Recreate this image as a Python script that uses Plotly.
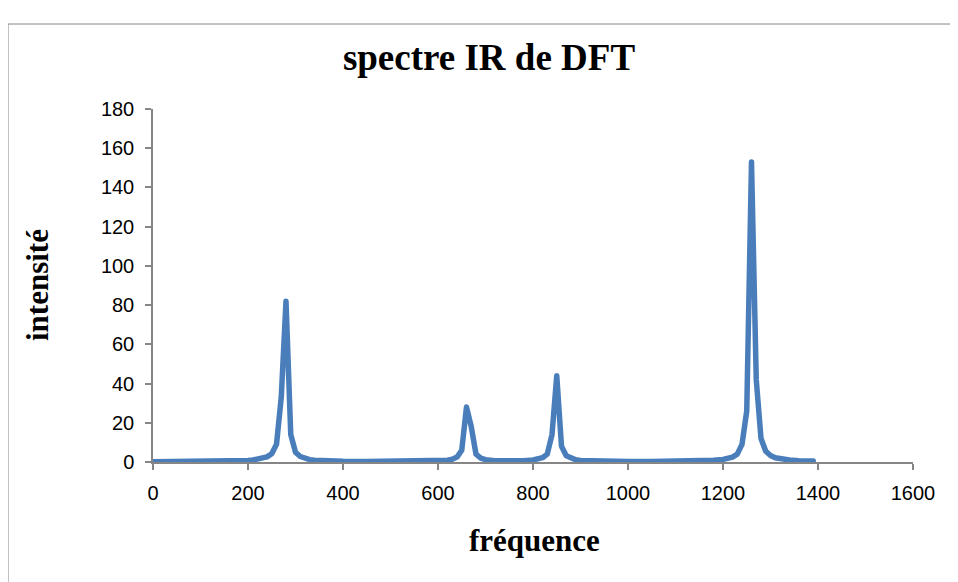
import plotly.graph_objects as go

freq = [0, 50, 100, 150, 180, 200, 210, 220, 230, 240, 250, 260, 270, 280, 290, 300,
        310, 320, 330, 340, 360, 400, 450, 500, 550, 600, 620, 630, 640, 650, 660, 670,
        680, 690, 700, 720, 750, 780, 800, 810, 820, 830, 840, 850, 860, 870, 880, 890,
        900, 950, 1000, 1050, 1100, 1150, 1180, 1200, 1210, 1220, 1230, 1240, 1250, 1260,
        1270, 1280, 1290, 1300, 1310, 1320, 1340, 1360, 1390]
intensite = [0.1, 0.15, 0.2, 0.35, 0.6, 0.8, 1.0, 1.3, 1.8, 2.6, 4.2, 9, 33, 82, 14, 5,
             2.8, 1.8, 1.2, 0.9, 0.6, 0.35, 0.25, 0.25, 0.35, 0.6, 0.9, 1.4, 2.5, 6, 28, 18,
             4, 2, 1.2, 0.7, 0.5, 0.7, 1.0, 1.4, 2.2, 4, 14, 44, 8, 3.2, 1.8, 1.1,
             0.8, 0.4, 0.3, 0.3, 0.4, 0.6, 0.9, 1.3, 1.7, 2.5, 4, 9, 26, 153,
             42, 12, 5.5, 3.3, 2.2, 1.6, 1.0, 0.7, 0.5]

x_ticks = [0, 200, 400, 600, 800, 1000, 1200, 1400, 1600]
y_ticks = [0, 20, 40, 60, 80, 100, 120, 140, 160, 180]

# page body has an 8px margin; work in screen pixels and offset
OFF = 8
W, H = 958 - OFF, 582 - OFF
L, R, T, B = 153 - OFF, 45, 109 - OFF, 120
pw, ph = W - L - R, H - T - B

def px_to_paper_x(px):
    return (px - OFF - L) / pw

def px_to_paper_y(py):
    return (H - B - (py - OFF)) / ph

serif = "Liberation Serif, Times New Roman, serif"

fig = go.Figure()
fig.add_trace(go.Scatter(x=freq, y=intensite, mode="lines",
                         line=dict(color="#4A7EBB", width=5.5),
                         showlegend=False, hoverinfo="x+y"))

tick_font = dict(family="Liberation Sans, Arial, sans-serif", size=20, color="#000000")
fig.update_layout(
    width=W, height=H,
    margin=dict(l=L, r=R, t=T, b=B, pad=0),
    paper_bgcolor="white", plot_bgcolor="white",
    title=dict(text="<b>spectre IR de DFT</b>", x=(489 - OFF) / W, y=1 - (57 - OFF) / H,
               xref="container", yref="container", xanchor="center", yanchor="middle",
               font=dict(family=serif, size=37, color="#000000")),
    xaxis=dict(range=[0, 1600], tickvals=x_ticks, ticks="outside", ticklen=6,
               tickcolor="#868686", tickwidth=1.5, showline=True, linecolor="#868686",
               linewidth=1.5, showgrid=False, zeroline=False, tickfont=tick_font,
               ticklabelstandoff=6),
    yaxis=dict(range=[0, 180], tickvals=y_ticks, ticks="outside", ticklen=6,
               tickcolor="#868686", tickwidth=1.5, showline=True, linecolor="#868686",
               linewidth=1.5, showgrid=False, zeroline=False, tickfont=tick_font,
               ticklabelstandoff=7),
    annotations=[
        dict(text="<b>fréquence</b>", xref="paper", yref="paper",
             x=px_to_paper_x(534), y=px_to_paper_y(540), xanchor="center", yanchor="middle",
             showarrow=False, font=dict(family=serif, size=31, color="#000000")),
        dict(text="<b>intensité</b>", xref="paper", yref="paper", textangle=-90,
             x=px_to_paper_x(37), y=px_to_paper_y(285), xanchor="center", yanchor="middle",
             showarrow=False, font=dict(family=serif, size=31, color="#000000")),
    ],
    shapes=[dict(type="rect", xref="paper", yref="paper",
                 x0=px_to_paper_x(8), x1=px_to_paper_x(962),
                 y0=px_to_paper_y(600), y1=px_to_paper_y(24),
                 line=dict(color="#868686", width=1), layer="below")],
)

post = """
var s = document.createElement('style');
s.textContent = '.js-line{stroke-linejoin:round !important;stroke-linecap:round !important;}';
document.head.appendChild(s);
"""
fig.write_html("out.html", post_script=post)
